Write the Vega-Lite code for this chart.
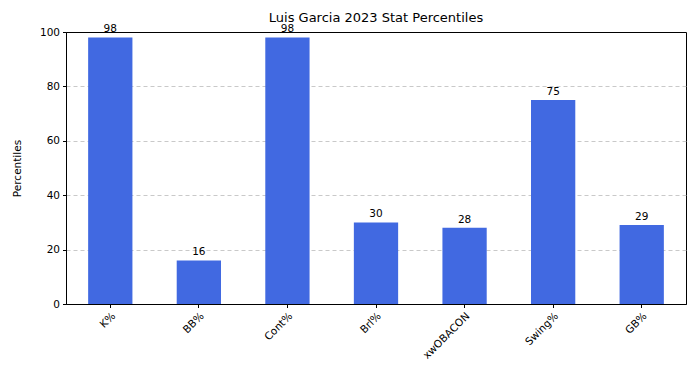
{
  "$schema": "https://vega.github.io/schema/vega-lite/v6.json",
  "width": 620,
  "height": 272,
  "autosize": {"type": "none"},
  "padding": {"left": 66, "top": 32, "right": 9, "bottom": 86},
  "background": "white",
  "title": {"text": "Luis Garcia 2023 Stat Percentiles", "font": "DejaVu Sans", "fontSize": 13, "fontWeight": "normal", "color": "black", "offset": 6, "dy": 7},
  "config": {
    "view": {"stroke": "black", "strokeWidth": 1},
    "axis": {"labelFont": "DejaVu Sans", "titleFont": "DejaVu Sans", "labelFontSize": 10.5, "titleFontSize": 10.5, "titleFontWeight": "normal", "labelColor": "black", "titleColor": "black", "tickColor": "black", "domainColor": "black", "tickSize": 3.5}
  },
  "data": {"values": [
    {"stat": "K%", "value": 98},
    {"stat": "BB%", "value": 16},
    {"stat": "Cont%", "value": 98},
    {"stat": "Brl%", "value": 30},
    {"stat": "xwOBACON", "value": 28},
    {"stat": "Swing%", "value": 75},
    {"stat": "GB%", "value": 29}
  ]},
  "encoding": {
    "x": {"field": "stat", "type": "nominal", "sort": null,
      "scale": {"paddingInner": 0.5, "paddingOuter": 0.25},
      "axis": {"title": null, "labelAngle": -45, "labelAlign": "right", "labelBaseline": "top", "labelPadding": 3}},
    "y": {"field": "value", "type": "quantitative",
      "scale": {"domain": [0, 100], "nice": false},
      "axis": {"title": "Percentiles", "values": [0, 20, 40, 60, 80, 100], "grid": true, "gridDash": [4, 3], "gridColor": "#bbbbbb", "gridWidth": 0.8,
        "gridOpacity": {"condition": {"test": "datum.value == 100 || datum.value == 0", "value": 0}, "value": 1},
        "titlePadding": 17, "labelPadding": 3}}
  },
  "layer": [
    {"mark": {"type": "bar", "color": "#4169E1"}},
    {"mark": {"type": "text", "baseline": "bottom", "dy": -3, "font": "DejaVu Sans", "fontSize": 10.5, "color": "black", "clip": false},
     "encoding": {"text": {"field": "value", "type": "quantitative"}}}
  ]
}
